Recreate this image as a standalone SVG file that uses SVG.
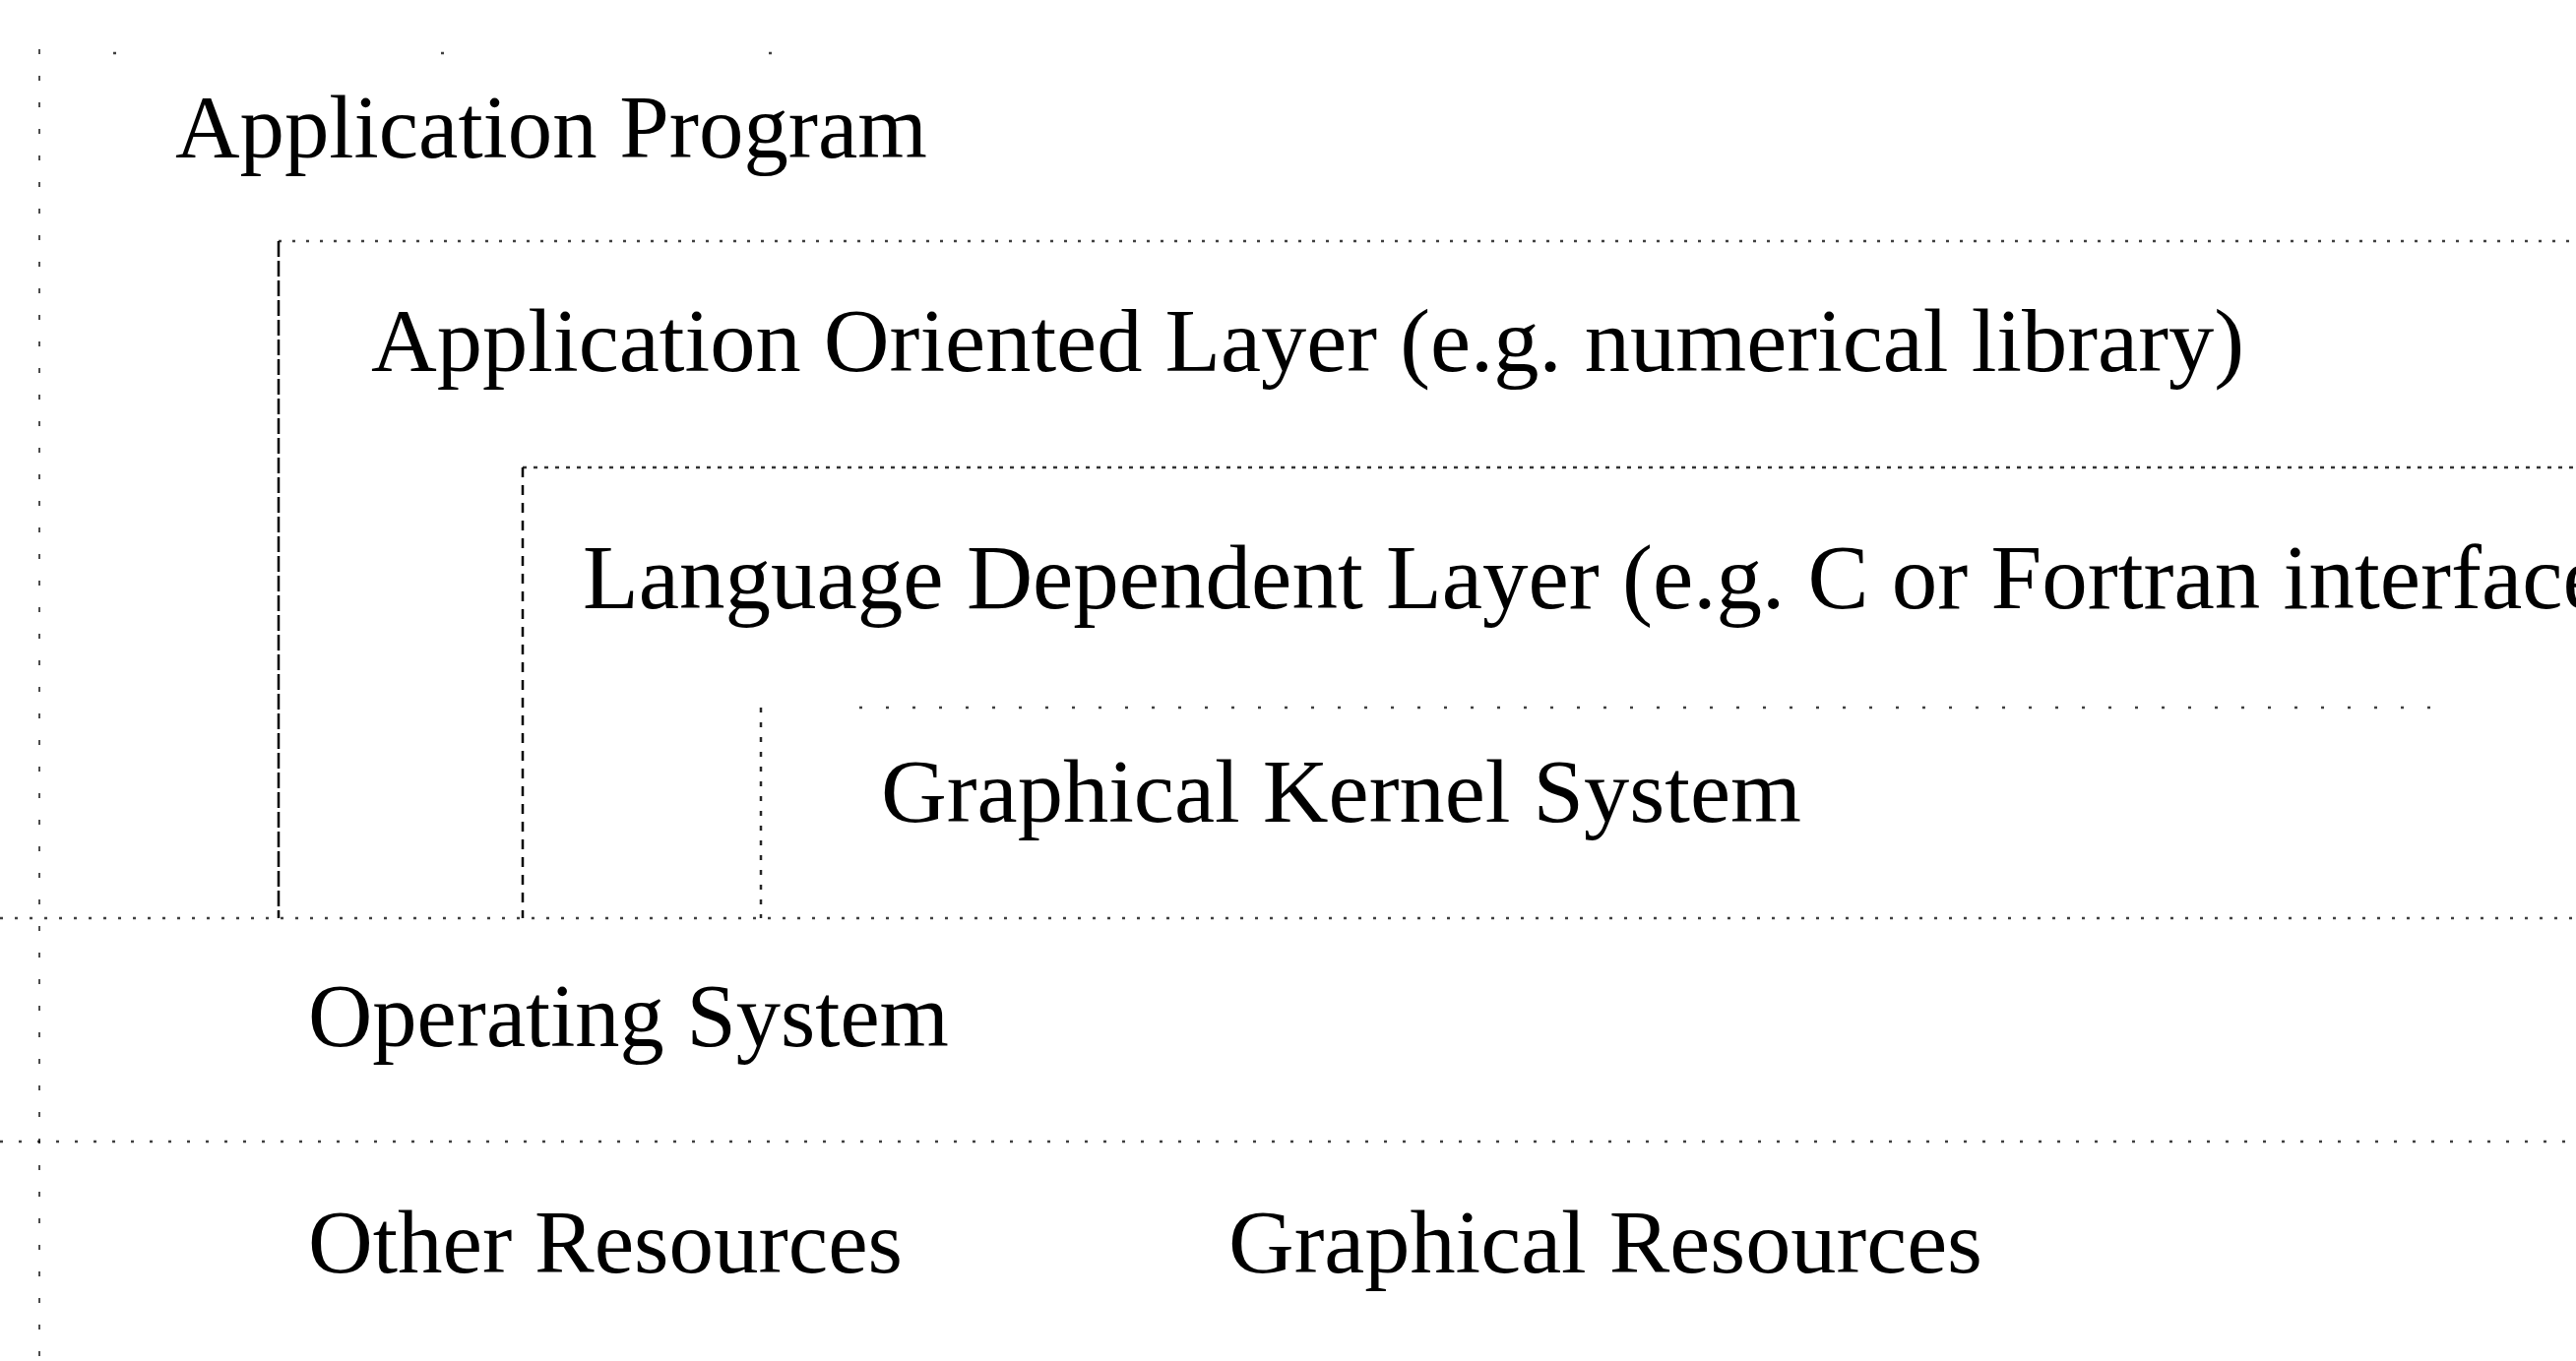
<svg xmlns="http://www.w3.org/2000/svg" width="2617" height="1383" viewBox="0 0 2617 1383">
  <style>
    .lbl { font-family: "Liberation Serif", "Times New Roman", serif; font-size: 91px; fill: #000; }
    .hdot { stroke: #000; stroke-width: 2.5; fill: none; opacity: 0.75; }
    .vdash1 { stroke: #000; stroke-width: 2.5; stroke-dasharray: 16 4; fill: none; }
    .vdash2 { stroke: #000; stroke-width: 2.5; stroke-dasharray: 10 8; fill: none; }
    .vdash3 { stroke: #000; stroke-width: 2.5; stroke-dasharray: 5 10; fill: none; opacity: 0.85; }
    .vedge { stroke: #000; stroke-width: 2; stroke-dasharray: 5 22; fill: none; opacity: 0.7; }
  </style>
  <rect width="2617" height="1383" fill="#fff"/>

  <g id="application-program">
    <line class="vedge" x1="40" y1="50" x2="40" y2="1383"/>
    <line class="hdot" x1="115" y1="54" x2="790" y2="54" style="stroke-dasharray: 3 330"/>
    <text class="lbl" x="178" y="160" textLength="764" lengthAdjust="spacingAndGlyphs">Application Program</text>
  </g>

  <g id="application-oriented-layer">
    <line class="hdot" x1="283" y1="245" x2="2617" y2="245" style="stroke-dasharray: 3 11"/>
    <line class="vdash1" x1="283" y1="245" x2="283" y2="933"/>
    <text class="lbl" x="377" y="377" textLength="1903" lengthAdjust="spacingAndGlyphs">Application Oriented Layer (e.g. numerical library)</text>
  </g>

  <g id="language-dependent-layer">
    <line class="hdot" x1="531" y1="475" x2="2617" y2="475" style="stroke-dasharray: 4 7; opacity: 0.8"/>
    <line class="vdash2" x1="531" y1="475" x2="531" y2="933"/>
    <text class="lbl" x="592" y="618" style="font-size: 93px">Language Dependent Layer (e.g. C or Fortran interface</text>
  </g>

  <g id="graphical-kernel-system">
    <line class="hdot" x1="873" y1="719" x2="2470" y2="719" style="stroke-dasharray: 3 24"/>
    <line class="vdash3" x1="773" y1="719" x2="773" y2="933"/>
    <text class="lbl" x="895" y="835" textLength="935" lengthAdjust="spacingAndGlyphs">Graphical Kernel System</text>
  </g>

  <g id="operating-system">
    <line class="hdot" x1="0" y1="933" x2="2617" y2="933" style="stroke-dasharray: 3 12"/>
    <text class="lbl" x="313" y="1063" textLength="651" lengthAdjust="spacingAndGlyphs">Operating System</text>
  </g>

  <g id="resources">
    <line class="hdot" x1="0" y1="1160" x2="2617" y2="1160" style="stroke-dasharray: 3 16"/>
    <text class="lbl" x="313" y="1293" textLength="604" lengthAdjust="spacingAndGlyphs">Other Resources</text>
    <text class="lbl" x="1248" y="1293" textLength="766" lengthAdjust="spacingAndGlyphs">Graphical Resources</text>
  </g>

  <g id="connectors"></g>
</svg>
